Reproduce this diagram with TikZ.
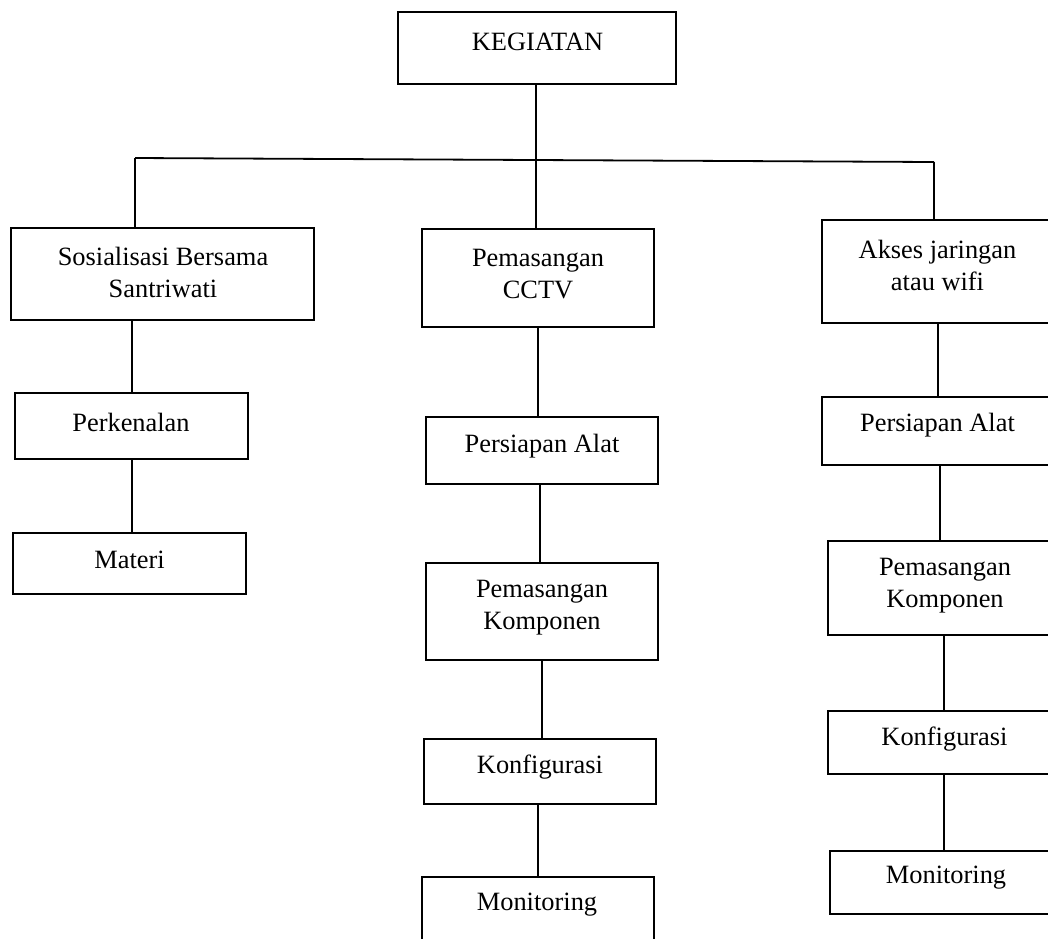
\documentclass[tikz,border=0pt]{standalone}
\usepackage{fontspec}
\setmainfont{Liberation Serif}
\begin{document}
\begin{tikzpicture}[x=1pt,y=-1pt,
  box/.style={draw=black, line width=2.2pt, rectangle, inner sep=0pt},
  txt/.style={align=center, inner sep=0pt, font=\fontsize{26.4}{32}\selectfont},
  conn/.style={draw=black, line width=1.8pt}]
\useasboundingbox (0,0) rectangle (1048,938);
\clip (0,0) rectangle (1048,938);
\fill[white] (0,0) rectangle (1048,938);
% boxes
\node[box, minimum width=278pt, minimum height=72pt] (keg) at (537,48) {};
\node[box, minimum width=303pt, minimum height=92pt] (sos) at (162.5,274) {};
\node[box, minimum width=232pt, minimum height=98pt] (cctv) at (538,278) {};
\node[box, minimum width=238pt, minimum height=103pt] (akses) at (941,271.5) {};
\node[box, minimum width=233pt, minimum height=66pt] (per) at (131.5,426) {};
\node[box, minimum width=233pt, minimum height=61pt] (mat) at (129.5,563.5) {};
\node[box, minimum width=232pt, minimum height=67pt] (pa2) at (542,450.5) {};
\node[box, minimum width=232pt, minimum height=97pt] (pk2) at (542,611.5) {};
\node[box, minimum width=232pt, minimum height=65pt] (kf2) at (540,771.5) {};
\node[box, minimum width=232pt, minimum height=80pt] (mo2) at (538,917) {};
\node[box, minimum width=238pt, minimum height=68pt] (pa3) at (941,431) {};
\node[box, minimum width=232pt, minimum height=94pt] (pk3) at (944,588) {};
\node[box, minimum width=232pt, minimum height=63pt] (kf3) at (944,742.5) {};
\node[box, minimum width=230pt, minimum height=63pt] (mo3) at (945,882.5) {};
% texts
\node[txt] (kegt) at (537.5,42) {KEGIATAN};
\node[txt] (sost) at (163,272) {Sosialisasi Bersama\\Santriwati};
\node[txt] (cctvt) at (538,274) {Pemasangan\\CCTV};
\node[txt] (aksest) at (937.5,265) {Akses jaringan\\atau wifi};
\node[txt] (pert) at (131,422) {Perkenalan};
\node[txt] (matt) at (129.5,560) {Materi};
\node[txt] (pa2t) at (542,446) {Persiapan Alat};
\node[txt] (pk2t) at (542,608) {Pemasangan\\Komponen};
\node[txt] (kf2t) at (540,767) {Konfigurasi};
\node[txt] (mo2t) at (537,905) {Monitoring};
\node[txt] (pa3t) at (937.5,425) {Persiapan Alat};
\node[txt] (pk3t) at (945,586) {Pemasangan\\Komponen};
\node[txt] (kf3t) at (944.5,739) {Konfigurasi};
\node[txt] (mo3t) at (946,878) {Monitoring};
% connectors
\coordinate (hl) at (135,158);
\coordinate (hr) at (934,162);
\draw[conn] (hl) -- (hr);
\draw[conn] ([xshift=-1pt]keg.south) -- ([xshift=-2pt]cctv.north);
\draw[conn] (hl) -- (sos.north -| hl);
\draw[conn] (hr) -- (akses.north -| hr);
\draw[conn] ([xshift=-30.5pt]sos.south) -- ([xshift=0.5pt]per.north);
\draw[conn] ([xshift=0.5pt]per.south) -- ([xshift=2.5pt]mat.north);
\draw[conn] (cctv.south) -- ([xshift=-4pt]pa2.north);
\draw[conn] ([xshift=-2pt]pa2.south) -- ([xshift=-2pt]pk2.north);
\draw[conn] (pk2.south) -- ([xshift=2pt]kf2.north);
\draw[conn] ([xshift=-2pt]kf2.south) -- (mo2.north);
\draw[conn] ([xshift=-3pt]akses.south) -- ([xshift=-3pt]pa3.north);
\draw[conn] ([xshift=-1pt]pa3.south) -- ([xshift=-4pt]pk3.north);
\draw[conn] (pk3.south) -- (kf3.north);
\draw[conn] (kf3.south) -- ([xshift=-1pt]mo3.north);
\end{tikzpicture}
\end{document}
